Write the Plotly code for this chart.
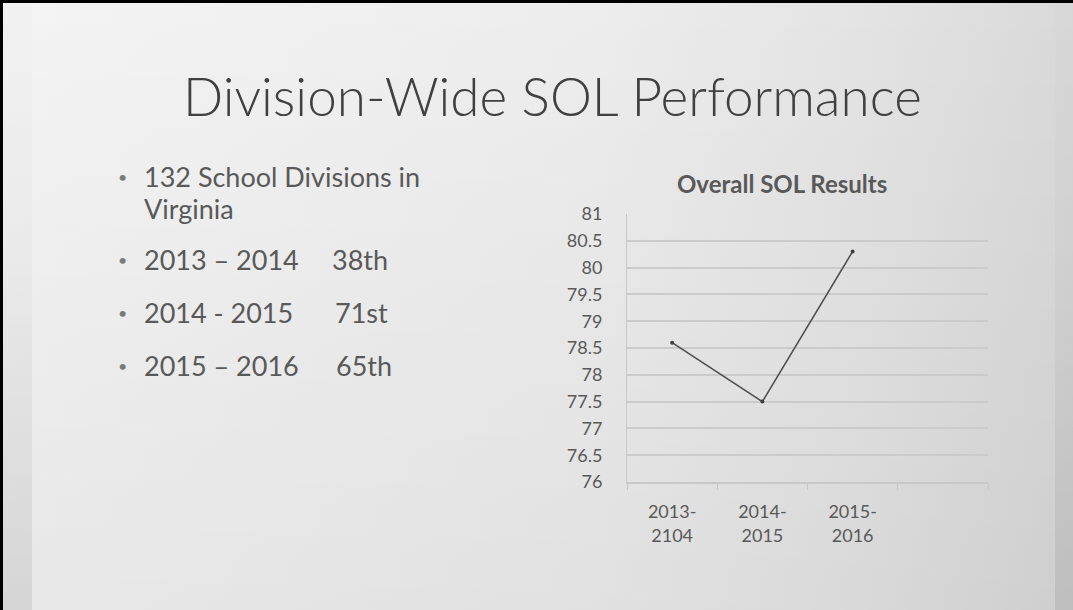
import base64
import plotly.graph_objects as go

# ---- data ----
categories = ["2013-<br>2104", "2014-<br>2015", "2015-<br>2016"]
values = [78.6, 77.5, 80.3]
y_ticks = [76, 76.5, 77, 77.5, 78, 78.5, 79, 79.5, 80, 80.5, 81]
bullet_items = ["132 School Divisions in", "2013 – 2014", "2014 - 2015", "2015 – 2016"]
bullet_cont = ["Virginia", "", "", ""]
bullet_ranks = ["", "38th", "71st", "65th"]

W, H = 1073, 610
FONT = "Lato"
TXT = "#595959"

def px(x):
    return x / W

def py(y):
    return 1 - y / H

fig = go.Figure()

fig.add_trace(go.Scatter(
    x=list(range(len(categories))), y=values, mode="lines+markers",
    line=dict(color="#505050", width=1.6),
    marker=dict(size=4, color="#404040"),
    hoverinfo="skip", showlegend=False,
))

# ---- decorative slide background (SVG gradient) ----
svg = (
    "<svg xmlns='http://www.w3.org/2000/svg' width='1073' height='610' viewBox='0 0 1073 610' preserveAspectRatio='none'>"
    "<defs>"
    "<linearGradient id='h' x1='0' y1='0' x2='1' y2='0'>"
    "<stop offset='0' stop-color='#f4f4f4'/><stop offset='0.55' stop-color='#ededed'/>"
    "<stop offset='0.8' stop-color='#e4e4e4'/><stop offset='1' stop-color='#d9d9d9'/>"
    "</linearGradient>"
    "<linearGradient id='v' x1='0' y1='0' x2='0' y2='1'>"
    "<stop offset='0' stop-color='#000' stop-opacity='0'/><stop offset='1' stop-color='#000' stop-opacity='0.05'/>"
    "</linearGradient>"
    "<linearGradient id='b' x1='0' y1='0' x2='0' y2='1'>"
    "<stop offset='0' stop-color='#000' stop-opacity='0.01'/><stop offset='0.4' stop-color='#000' stop-opacity='0.02'/>"
    "<stop offset='1' stop-color='#000' stop-opacity='0.08'/>"
    "</linearGradient>"
    "</defs>"
    "<rect x='0' y='0' width='1073' height='610' fill='url(#h)'/>"
    "<rect x='0' y='0' width='1073' height='610' fill='url(#v)'/>"
    "<rect x='3' y='0' width='29' height='610' fill='url(#b)'/>"
    "<rect x='1055' y='0' width='18' height='610' fill='url(#b)'/>"
    "</svg>"
)
bg_src = "data:image/svg+xml;base64," + base64.b64encode(svg.encode()).decode()

shapes = [
    dict(type="rect", xref="paper", yref="paper", layer="above",
         x0=0, x1=px(3), y0=0, y1=1, fillcolor="black", line=dict(width=0)),
    dict(type="rect", xref="paper", yref="paper", layer="above",
         x0=0, x1=1, y0=py(3), y1=1, fillcolor="black", line=dict(width=0)),
]

annotations = []
annotations.append(dict(text="Division-Wide SOL Performance", xref="paper", yref="paper",
                        x=px(552), y=py(95), xanchor="center", yanchor="middle", showarrow=False,
                        font=dict(family=FONT, size=53, color="#404040", weight=300)))
annotations.append(dict(text="<b>Overall SOL Results</b>", xref="paper", yref="paper",
                        x=px(782), y=py(183), xanchor="center", yanchor="middle", showarrow=False,
                        font=dict(family=FONT, size=24, color=TXT)))

line1_y = [177, 259, 313, 365]
line2_y = [208, 0, 0, 0]
rank_x = [0, 330, 333, 334]
for item, cont, rank, y1, y2, rx in zip(bullet_items, bullet_cont, bullet_ranks, line1_y, line2_y, rank_x):
    annotations.append(dict(text="•", xref="paper", yref="paper", x=px(116), y=py(y1),
                            xanchor="left", yanchor="middle", showarrow=False,
                            font=dict(family=FONT, size=16, color="#7a7a7a")))
    annotations.append(dict(text=item, xref="paper", yref="paper", x=px(142), y=py(y1),
                            xanchor="left", yanchor="middle", showarrow=False,
                            font=dict(family=FONT, size=27, color=TXT)))
    if cont:
        annotations.append(dict(text=cont, xref="paper", yref="paper", x=px(142), y=py(y2),
                                xanchor="left", yanchor="middle", showarrow=False,
                                font=dict(family=FONT, size=27, color=TXT)))
    if rank:
        annotations.append(dict(text=rank, xref="paper", yref="paper", x=px(rx), y=py(y1),
                                xanchor="left", yanchor="middle", showarrow=False,
                                font=dict(family=FONT, size=27, color=TXT)))

fig.update_layout(
    width=W, height=H,
    margin=dict(l=0, r=0, t=0, b=0, pad=0, autoexpand=False),
    paper_bgcolor="#eeeeee", plot_bgcolor="rgba(0,0,0,0)",
    images=[dict(source=bg_src, xref="paper", yref="paper", x=0, y=1, sizex=1, sizey=1,
                 xanchor="left", yanchor="top", sizing="stretch", layer="below")],
    shapes=shapes, annotations=annotations, showlegend=False,
    xaxis=dict(domain=[px(627), px(988)], range=[-0.5, 3.5], automargin=False,
               tickmode="array", tickvals=list(range(len(categories))), ticktext=categories,
               ticks="", showgrid=False, zeroline=False,
               showline=True, linecolor="#c8c8c8", linewidth=1.5,
               ticklabelstandoff=13,
               tickfont=dict(family=FONT, size=18, color=TXT),
               minor=dict(tickmode="array", tickvals=[-0.5, 0.5, 1.5, 2.5, 3.5],
                          ticks="outside", ticklen=6, tickcolor="#c8c8c8", tickwidth=1,
                          showgrid=False)),
    yaxis=dict(domain=[py(482), py(214)], range=[76, 81], automargin=False,
               tickmode="array", tickvals=y_ticks, ticktext=[f"{v:g}" for v in y_ticks],
               showgrid=True, gridcolor="#cbcbcb", gridwidth=1.5, zeroline=False,
               showline=True, linecolor="#c8c8c8", linewidth=1,
               ticks="", ticklabelstandoff=20,
               tickfont=dict(family=FONT, size=18, color=TXT)),
)

fig.write_html("out.html", config={"displayModeBar": False},
               post_script="document.body.style.margin='0';")
